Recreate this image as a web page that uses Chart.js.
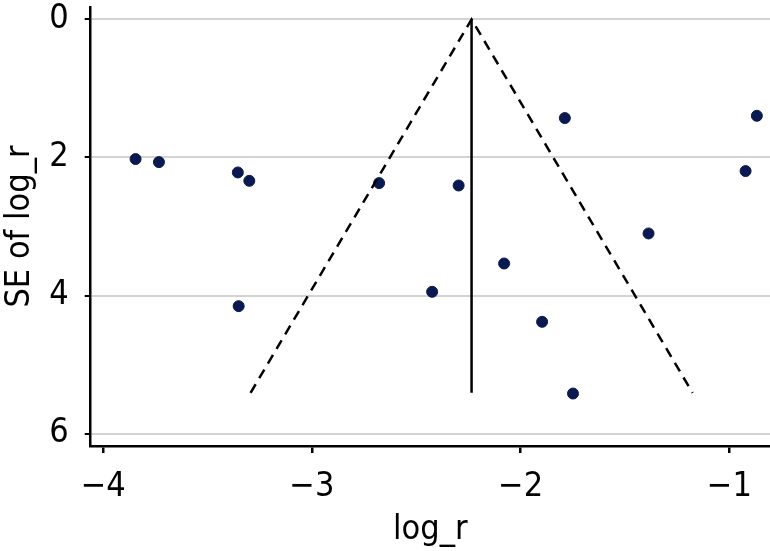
<!DOCTYPE html>
<html lang="en">
<head>
<meta charset="UTF-8">
<title>Funnel plot</title>
<style>
  html, body { margin: 0; padding: 0; background: #ffffff; overflow: hidden; }
  #wrap { width: 770px; height: 551px; }
</style>
</head>
<body>
<div id="wrap"><canvas id="funnel"></canvas></div>
<script src="https://cdn.jsdelivr.net/npm/chart.js"></script>
<script>
  // studies: effect (log_r) and its standard error
  var logR   = [-3.845, -3.733, -3.355, -3.300, -3.351, -2.678, -2.297, -2.424, -2.079, -1.897, -1.749, -1.788, -1.387, -0.922, -0.868];
  var seLogR = [2.023, 2.067, 2.217, 2.338, 4.154, 2.371, 2.406, 3.946, 3.536, 4.381, 5.420, 1.429, 3.101, 2.197, 1.396];

  // pseudo confidence limits and pooled estimate
  var funnelX = [-3.294, -2.235, -1.176];
  var funnelY = [5.41, 0, 5.41];
  var pooledX = [-2.235, -2.235];
  var pooledY = [0, 5.41];

  var xTicks = [-4, -3, -2, -1];
  var yTicks = [0, 2, 4, 6];

  var font = "'DejaVu Sans Condensed', 'Liberation Sans Narrow', 'Roboto', sans-serif";

  function pts(xs, ys) {
    return xs.map(function (x, i) { return { x: x, y: ys[i] }; });
  }
  function minus(v) { return String(v).replace('-', '\u2212'); }

  var ctx = document.getElementById('funnel').getContext('2d');
  new Chart(ctx, {
    type: 'scatter',
    data: {
      datasets: [{
        type: 'line',
        data: pts(funnelX, funnelY),
        borderColor: '#000000',
        borderWidth: 2.5,
        borderDash: [10, 7],
        pointRadius: 0,
        fill: false
      }, {
        type: 'line',
        data: pts(pooledX, pooledY),
        borderColor: '#000000',
        borderWidth: 2.5,
        pointRadius: 0,
        fill: false
      }, {
        data: pts(logR, seLogR),
        backgroundColor: '#0a1950',
        borderColor: '#0a1950',
        pointRadius: 5.5
      }]
    },
    options: {
      responsive: true,
      maintainAspectRatio: false,
      animation: false,
      layout: { autoPadding: false, padding: { top: 7, right: 0, left: 0, bottom: 0 } },
      plugins: { legend: { display: false }, tooltip: { enabled: false } },
      scales: {
        x: {
          type: 'linear',
          min: -4.06,
          max: -0.805,
          afterBuildTicks: function (s) { s.ticks = xTicks.map(function (v) { return { value: v }; }); },
          afterFit: function (s) { s.height = 105; s.paddingLeft = 0; s.paddingRight = 0; },
          border: { color: '#000000', width: 2.5 },
          grid: { drawOnChartArea: false, tickColor: '#000000', tickLength: 7, lineWidth: 2.5 },
          ticks: {
            color: '#000000',
            font: { family: font, size: 34 },
            padding: 14,
            maxRotation: 0,
            callback: function (v) { return minus(v); }
          },
          title: {
            display: true,
            text: 'log_r',
            color: '#000000',
            font: { family: font, size: 34 },
            padding: { top: 2, bottom: 0 }
          }
        },
        y: {
          type: 'linear',
          reverse: true,
          min: -0.18,
          max: 6.18,
          afterBuildTicks: function (s) { s.ticks = yTicks.map(function (v) { return { value: v }; }); },
          afterFit: function (s) { s.width = 90.7; s.paddingTop = 0; s.paddingBottom = 0; },
          border: { color: '#000000', width: 2.5 },
          grid: { color: '#d3d3d3', lineWidth: 2, tickColor: '#000000', tickLength: 6 },
          ticks: {
            color: '#000000',
            font: { family: font, size: 34 },
            padding: 16,
            callback: function (v) { return minus(v); }
          },
          title: {
            display: true,
            text: 'SE of log_r',
            color: '#000000',
            font: { family: font, size: 34 },
            padding: { top: 0, bottom: 0 }
          }
        }
      }
    }
  });
</script>
</body>
</html>
